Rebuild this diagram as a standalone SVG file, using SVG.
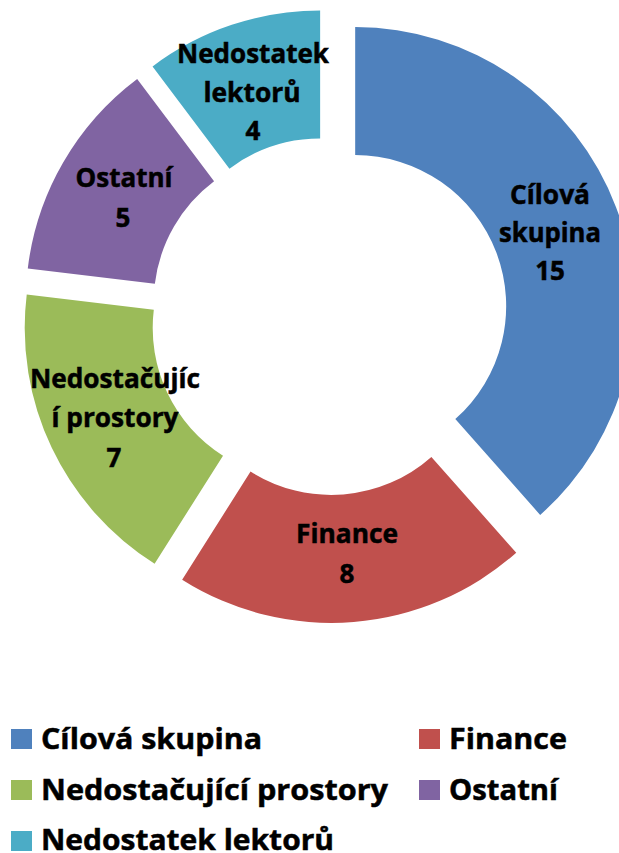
<svg xmlns="http://www.w3.org/2000/svg" width="619" height="853" viewBox="0 0 619 853">
<style>
.lbl{font-family:"Open Sans","Liberation Sans",sans-serif;font-weight:bold;font-size:26px;fill:#000;stroke:#000;stroke-width:0.5;text-anchor:middle}
.leg{font-family:"Open Sans","Liberation Sans",sans-serif;font-weight:bold;font-size:28px;fill:#000;stroke:#000;stroke-width:0.5}
.blue{fill:#4F81BD}.red{fill:#C0504D}.green{fill:#9BBB59}.purple{fill:#8064A2}.teal{fill:#4BACC6}
</style>
<rect width="619" height="853" fill="#fff"/>
<g id="connectors"></g>
<g id="seg-cilova">
<path class="blue" d="M355.18 27.07 A279 279 0 0 1 540.18 514.90 L455.31 419.09 A151 151 0 0 0 355.18 155.07 Z"/>
<text class="lbl" x="550" y="204" textLength="80" lengthAdjust="spacingAndGlyphs">Cílová</text>
<text class="lbl" x="550" y="242" textLength="102" lengthAdjust="spacingAndGlyphs">skupina</text>
<text class="lbl" x="550" y="280">15</text>
</g>
<g id="seg-finance">
<path class="red" d="M516.25 552.74 A279 279 0 0 1 182.15 579.72 L250.56 471.54 A151 151 0 0 0 431.38 456.93 Z"/>
<text class="lbl" x="347" y="543" textLength="102" lengthAdjust="spacingAndGlyphs">Finance</text>
<text class="lbl" x="347" y="583">8</text>
</g>
<g id="seg-prostory">
<path class="green" d="M154.60 563.81 A279 279 0 0 1 26.73 294.38 L153.80 309.80 A151 151 0 0 0 223.01 455.63 Z"/>
<text class="lbl" x="115" y="388" textLength="170" lengthAdjust="spacingAndGlyphs">Nedostačujíc</text>
<text class="lbl" x="115" y="427" textLength="127" lengthAdjust="spacingAndGlyphs">í prostory</text>
<text class="lbl" x="114" y="467">7</text>
</g>
<g id="seg-ostatni">
<path class="purple" d="M27.78 268.38 A279 279 0 0 1 137.18 78.94 L214.06 181.28 A151 151 0 0 0 154.85 283.80 Z"/>
<text class="lbl" x="124" y="187" textLength="97" lengthAdjust="spacingAndGlyphs">Ostatní</text>
<text class="lbl" x="123" y="227">5</text>
</g>
<g id="seg-lektoru">
<path class="teal" d="M152.56 66.38 A279 279 0 0 1 320.13 10.44 L320.13 138.44 A151 151 0 0 0 229.44 168.72 Z"/>
<text class="lbl" x="253" y="63" textLength="152" lengthAdjust="spacingAndGlyphs">Nedostatek</text>
<text class="lbl" x="252" y="102" textLength="97" lengthAdjust="spacingAndGlyphs">lektorů</text>
<text class="lbl" x="253" y="140">4</text>
</g>
<g id="legend">
<rect class="blue" x="11" y="729" width="21" height="20"/>
<text class="leg" x="41" y="749" textLength="221" lengthAdjust="spacingAndGlyphs">Cílová skupina</text>
<rect class="red" x="419" y="729" width="21" height="20"/>
<text class="leg" x="449" y="749" textLength="118" lengthAdjust="spacingAndGlyphs">Finance</text>
<rect class="green" x="11" y="780" width="21" height="20"/>
<text class="leg" x="41" y="800" textLength="347" lengthAdjust="spacingAndGlyphs">Nedostačující prostory</text>
<rect class="purple" x="419" y="780" width="21" height="20"/>
<text class="leg" x="449" y="800" textLength="109" lengthAdjust="spacingAndGlyphs">Ostatní</text>
<rect class="teal" x="11" y="831" width="21" height="20"/>
<text class="leg" x="41" y="850" textLength="293" lengthAdjust="spacingAndGlyphs">Nedostatek lektorů</text>
</g>
</svg>
